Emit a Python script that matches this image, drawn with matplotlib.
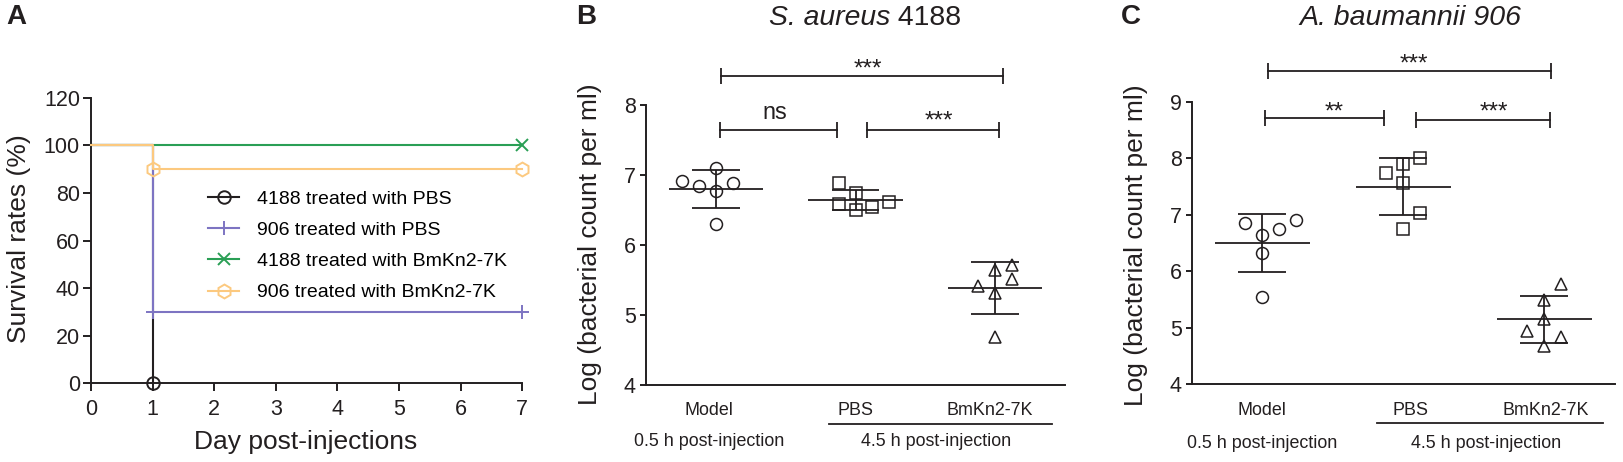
import matplotlib
matplotlib.use('Agg')
import matplotlib.pyplot as plt
import numpy as np
from matplotlib.transforms import blended_transform_factory
from matplotlib.lines import Line2D

plt.rcParams['font.family'] = ['Liberation Sans', 'DejaVu Sans']

DARK = '#231f20'

# ---- panel A data (survival, %)
days = [0, 1, 7]
surv_4188_pbs = [100, 0]
surv_906_pbs = [100, 30, 30]
surv_4188_bm = [100, 100]
surv_906_bm = [100, 90, 90]
legend_labels = ['4188 treated with PBS', '906 treated with PBS',
                 '4188 treated with BmKn2-7K', '906 treated with BmKn2-7K']

# ---- panel B data (log bacterial count), S. aureus 4188
groups = ['Model', 'PBS', 'BmKn2-7K']
b_model = [6.92, 6.84, 7.10, 6.77, 6.88, 6.30]
b_pbs = [6.88, 6.75, 6.58, 6.50, 6.54, 6.61]
b_bm = [5.41, 5.65, 5.72, 5.51, 5.32, 4.69]

# ---- panel C data, A. baumannii 906
c_model = [6.85, 6.65, 6.74, 6.91, 6.32, 5.54]
c_pbs = [7.74, 7.89, 8.01, 7.56, 7.03, 6.74]
c_bm = [4.94, 5.50, 5.15, 5.78, 4.84, 4.68]

# horizontal spread of the dots (in units of one marker step)
b_offsets = [[-2, -1, 0, 0, 1, 0], [-1, 0, -1, 0, 1, 2], [-1, 0, 1, 1, 0, 0]]
c_offsets = [[-1, 0, 1, 2, 0, 0], [-1, 0, 1, 0, 1, 0], [-1, 0, 0, 1, 1, 0]]

W, H = 1623, 462


def fx(px):
    return px / W


def fy(px):
    return 1 - px / H


fig = plt.figure(figsize=(W / 100, H / 100), dpi=100)


def style_axis(ax, tick_len):
    for s in ['top', 'right']:
        ax.spines[s].set_visible(False)
    for s in ['left', 'bottom']:
        ax.spines[s].set_color(DARK)
        ax.spines[s].set_linewidth(1.4)
    ax.tick_params(colors=DARK, width=1.4, length=tick_len, labelsize=15.5)


# ================= panel A
axA = fig.add_axes([fx(91), fy(383.3), fx(431.3), 285.4 / H])
style_axis(axA, 6)
axA.tick_params(axis='y', pad=2)
axA.tick_params(axis='x', pad=5)

series = [
    (days[:2], surv_4188_pbs, DARK, 'o', 9, 2),
    (days, surv_906_pbs, '#7d74c2', '+', 10, 3),
    ([0, 7], surv_4188_bm, '#2a9f55', 'x', 8, 4),
    (days, surv_906_bm, '#fcc97f', 'h', 10, 5),
]
handles = []
for x, y, col, mk, ms, z in series:
    axA.step(x, y, where='post', color=col, lw=1.5, zorder=z, clip_on=False)
    axA.plot(x[1:], y[1:], ls='none', marker=mk, ms=ms, mfc='none', mec=col,
             mew=1.4, zorder=z + 0.5, clip_on=False)
    handles.append(Line2D([], [], color=col, lw=1.5, marker=mk, ms=ms,
                          mfc='none', mec=col, mew=1.4))

axA.set_xlim(0, 7)
axA.set_ylim(0, 120)
axA.set_xticks(range(8))
axA.set_yticks(range(0, 121, 20))
axA.legend(handles, legend_labels, loc='upper left', bbox_to_anchor=(0.272, 0.677),
           frameon=False, fontsize=14, handlelength=1.6, handletextpad=0.9,
           labelspacing=0.7, borderpad=0, borderaxespad=0)

fig.text(fx(18.7), fy(239), 'Survival rates (%)', rotation=90, ha='center',
         va='center', fontsize=19, color=DARK)
fig.text(fx(306), fy(441.7), 'Day post-injections', ha='center', va='center',
         fontsize=19, color=DARK)
fig.text(fx(16), fy(17), 'A', ha='center', va='center', fontsize=20,
         fontweight='bold', color=DARK)


# ================= panels B and C
def dot_panel(ax, data, offsets, step):
    markers = ['o', 's', '^']
    sizes = [8.6, 8, 8]
    for i, vals in enumerate(data):
        x0 = i + 1
        vals = np.array(vals)
        mean = vals.mean()
        sd = vals.std(ddof=1)
        ax.hlines(mean, x0 - 0.337, x0 + 0.337, color=DARK, lw=1.3)
        ax.vlines(x0, mean - sd, mean + sd, color=DARK, lw=1.3)
        ax.hlines([mean - sd, mean + sd], x0 - 0.17, x0 + 0.17, color=DARK, lw=1.3)
        ax.plot(x0 + np.array(offsets[i]) * step, vals, ls='none',
                marker=markers[i], ms=sizes[i], mfc='none', mec=DARK, mew=1.1,
                clip_on=False, zorder=3)


def bracket(ax, x0, x1, y, label, tx, ty):
    ax.plot([x0, x1], [y, y], color=DARK, lw=1.3, marker='|', ms=11, mew=1.3,
            clip_on=False)
    if label == 'ns':
        fs, off = 16.8, 0.26
    else:
        fs, off = 17.5, 0.57
    ax.annotate(label, (tx, ty), xytext=(0, -off * fs), textcoords='offset points',
                ha='center', va='baseline', fontsize=fs, color=DARK,
                annotation_clip=False)


def group_labels(ax, xs, line_x, y_cat, y_line, y_time, time_x):
    tr = blended_transform_factory(ax.transData, fig.transFigure)
    for x, g in zip(xs, groups):
        ax.text(x, fy(y_cat), g, transform=tr, ha='center', va='center',
                fontsize=12.9, color=DARK)
    ax.plot(line_x, [fy(y_line)] * 2, transform=tr, color=DARK, lw=1.3,
            clip_on=False)
    ax.text(time_x[0], fy(y_time), '0.5 h post-injection', transform=tr,
            ha='center', va='center', fontsize=12.9, color=DARK)
    ax.text(time_x[1], fy(y_time), '4.5 h post-injection', transform=tr,
            ha='center', va='center', fontsize=12.9, color=DARK)


# ---- B
axB = fig.add_axes([fx(646), fy(385), fx(419), 280 / H])
style_axis(axB, 4.3)
axB.tick_params(axis='y', pad=3)
axB.set_xlim(0.5, 3.5)
axB.set_ylim(4, 8)
axB.set_yticks(range(4, 9))
axB.set_xticks([])
dot_panel(axB, [b_model, b_pbs, b_bm], b_offsets, 0.12)
bracket(axB, 1.034, 3.057, 8.41, '***', 2.09, 8.62)
bracket(axB, 1.03, 1.865, 7.643, 'ns', 1.42, 7.88)
bracket(axB, 2.08, 3.03, 7.64, '***', 2.6, 7.87)
group_labels(axB, [0.95, 2.0, 2.96], [1.81, 3.41], 410.8, 423.6, 441.7, [0.95, 2.58])

fig.text(fx(590), fy(244), 'Log (bacterial count per ml)', rotation=90,
         ha='center', va='center', fontsize=19, color=DARK)
fig.text(fx(586.5), fy(17), 'B', ha='center', va='center', fontsize=20,
         fontweight='bold', color=DARK)
tB = fig.text(fx(769), fy(18.3), 'S. aureus', ha='left', va='center',
              fontsize=20.4, style='italic', color=DARK)
axB.annotate(' 4188', xy=(1, 0.5), xycoords=tB, ha='left', va='center',
             fontsize=20.4, color=DARK)

# ---- C
axC = fig.add_axes([fx(1191.7), fy(384.3), fx(423), 282.6 / H])
style_axis(axC, 4.3)
axC.tick_params(axis='y', pad=3)
axC.set_xlim(0.5, 3.5)
axC.set_ylim(4, 9)
axC.set_yticks(range(4, 10))
axC.set_xticks([])
dot_panel(axC, [c_model, c_pbs, c_bm], c_offsets, 0.12)
bracket(axC, 1.042, 3.05, 9.548, '***', 2.074, 9.795)
bracket(axC, 1.023, 1.862, 8.706, '**', 1.508, 8.94)
bracket(axC, 2.09, 3.04, 8.676, '***', 2.646, 8.94)
group_labels(axC, [1.0, 2.05, 3.01], [1.815, 3.42], 410.5, 423.3, 443.0, [1.0, 2.59])

fig.text(fx(1135.7), fy(245), 'Log (bacterial count per ml)', rotation=90,
         ha='center', va='center', fontsize=19, color=DARK)
fig.text(fx(1130.4), fy(17), 'C', ha='center', va='center', fontsize=20,
         fontweight='bold', color=DARK)
fig.text(fx(1410.9), fy(18.3), 'A. baumannii 906', ha='center', va='center',
         fontsize=20.5, style='italic', color=DARK)

fig.savefig('out.png', dpi=100)
